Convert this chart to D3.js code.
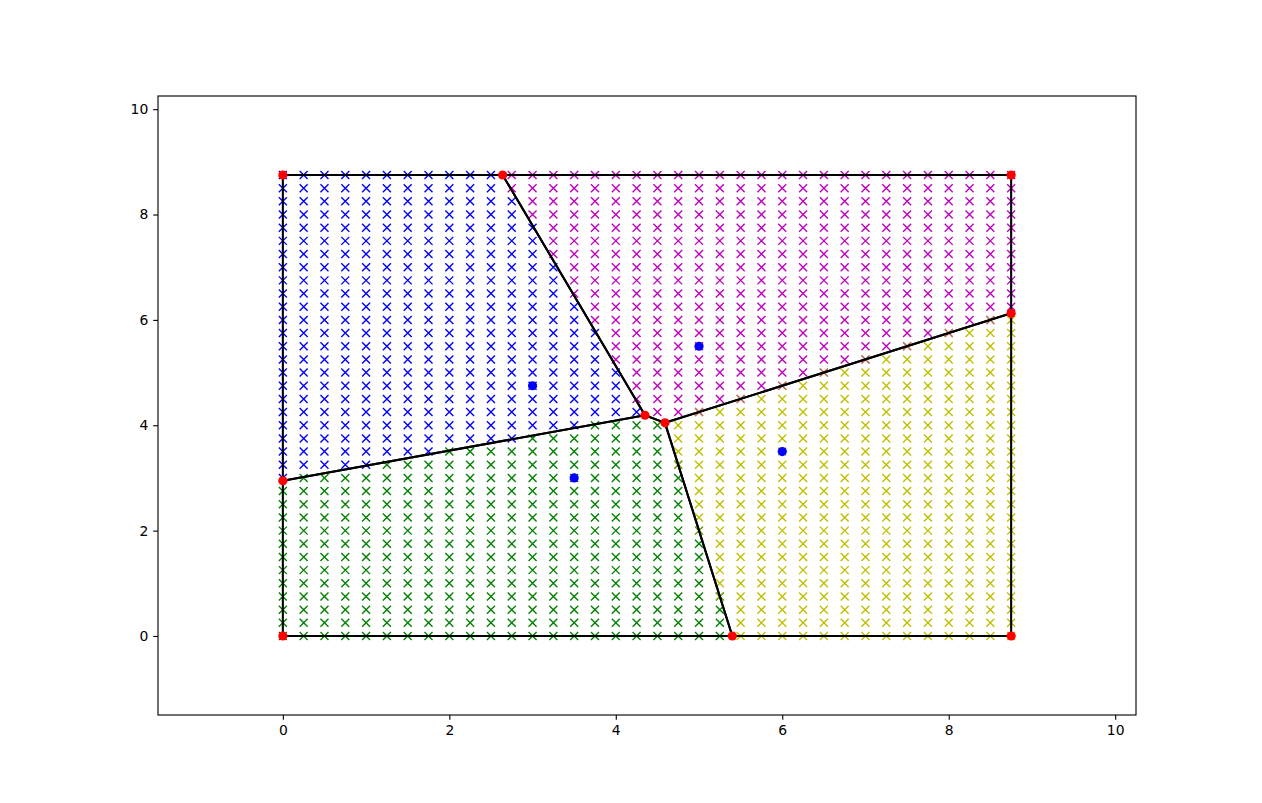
<!DOCTYPE html>
<html><head><meta charset="utf-8">
<script src="https://cdn.jsdelivr.net/npm/d3@7"></script>
<style>body{margin:0;background:#fff;} svg{display:block;} text{font-family:"DejaVu Sans",sans-serif;font-size:13.9px;}</style>
</head><body><svg id="c" width="1262" height="803"></svg>
<script>
// Sites (seed points)
const siteX = [3, 3.5, 5, 6];
const siteY = [4.75, 3, 5.5, 3.5];
const siteColors = ["#0000ff", "#008000", "#bf00bf", "#bfbf00"];
// Bounding box of the diagram and grid step
const boxMin = 0, boxMax = 8.75, gridStep = 0.25;
const xTicks = [0, 2, 4, 6, 8, 10];
const yTicks = [0, 2, 4, 6, 8, 10];
const xDomain = [-1.5, 10.25];
const yDomain = [-1.5, 10.25];

(function () {
const mL = 158, mR = 1136, mT = 96, mB = 715;
const svg = d3.select("#c");
const x = d3.scaleLinear().domain(xDomain).range([mL, mR]);
const y = d3.scaleLinear().domain(yDomain).range([mB, mT]);

// grid
const gridVals = d3.range(0, Math.round((boxMax - boxMin) / gridStep) + 1).map(i => boxMin + i * gridStep);
const marks = [];
gridVals.forEach(gx => gridVals.forEach(gy => {
  const d = siteX.map((sx, i) => (gx - sx) ** 2 + (gy - siteY[i]) ** 2);
  const m = d3.min(d);
  let first = true;
  d.forEach((v, i) => { if (v <= m + 1e-9) { marks.push({gx, gy, c: i, tie: !first}); first = false; } });
}));

const gMarks = svg.append("g");
const s = 4.0;
siteColors.forEach((col, ci) => {
  gMarks.selectAll(null).data(marks.filter(m => m.c === ci)).join("path")
    .attr("d", m => { const px = x(m.gx), py = y(m.gy);
      return `M${px - s},${py - s}L${px + s},${py + s}M${px - s},${py + s}L${px + s},${py - s}`; })
    .attr("stroke", col).attr("stroke-width", 1.39).attr("fill", "none")
    .attr("opacity", m => m.tie ? 0.65 : 1);
});

// Voronoi
const pts = siteX.map((sx, i) => [sx, siteY[i]]);
const vor = d3.Delaunay.from(pts).voronoi([boxMin, boxMin, boxMax, boxMax]);
const polys = Array.from(vor.cellPolygons());
const gLines = svg.append("g");
const line = d3.line().x(p => x(p[0])).y(p => y(p[1]));
polys.forEach(poly => {
  gLines.append("path").attr("d", line(poly)).attr("stroke", "#000").attr("stroke-width", 2.08)
    .attr("fill", "none").attr("stroke-linejoin", "round");
});
const verts = [];
polys.forEach(poly => poly.forEach(p => {
  if (!verts.some(v => Math.abs(v[0] - p[0]) < 1e-6 && Math.abs(v[1] - p[1]) < 1e-6)) verts.push(p);
}));
svg.append("g").selectAll("circle").data(verts).join("circle")
  .attr("cx", p => x(p[0])).attr("cy", p => y(p[1])).attr("r", 4.6).attr("fill", "#ff0000");
svg.append("g").selectAll("circle").data(pts).join("circle")
  .attr("cx", p => x(p[0])).attr("cy", p => y(p[1])).attr("r", 4.6).attr("fill", "#0000ff");

// axes
const xa = svg.append("g").attr("transform", `translate(0,${mB})`)
  .call(d3.axisBottom(x).tickValues(xTicks).tickFormat(d3.format("d")).tickSizeOuter(0).tickSize(4.86).tickPadding(4.86));
const ya = svg.append("g").attr("transform", `translate(${mL},0)`)
  .call(d3.axisLeft(y).tickValues(yTicks).tickFormat(d3.format("d")).tickSizeOuter(0).tickSize(4.86).tickPadding(4.86));
[xa, ya].forEach(a => {
  a.select(".domain").remove();
  a.selectAll("line").attr("stroke", "#000").attr("stroke-width", 1.11);
  a.selectAll("text").attr("fill", "#000").style("font-family", "DejaVu Sans").style("font-size", "13.9px");
});
svg.append("rect").attr("x", mL).attr("y", mT).attr("width", mR - mL).attr("height", mB - mT)
  .attr("fill", "none").attr("stroke", "#000").attr("stroke-width", 1.11);
})();
</script></body></html>
